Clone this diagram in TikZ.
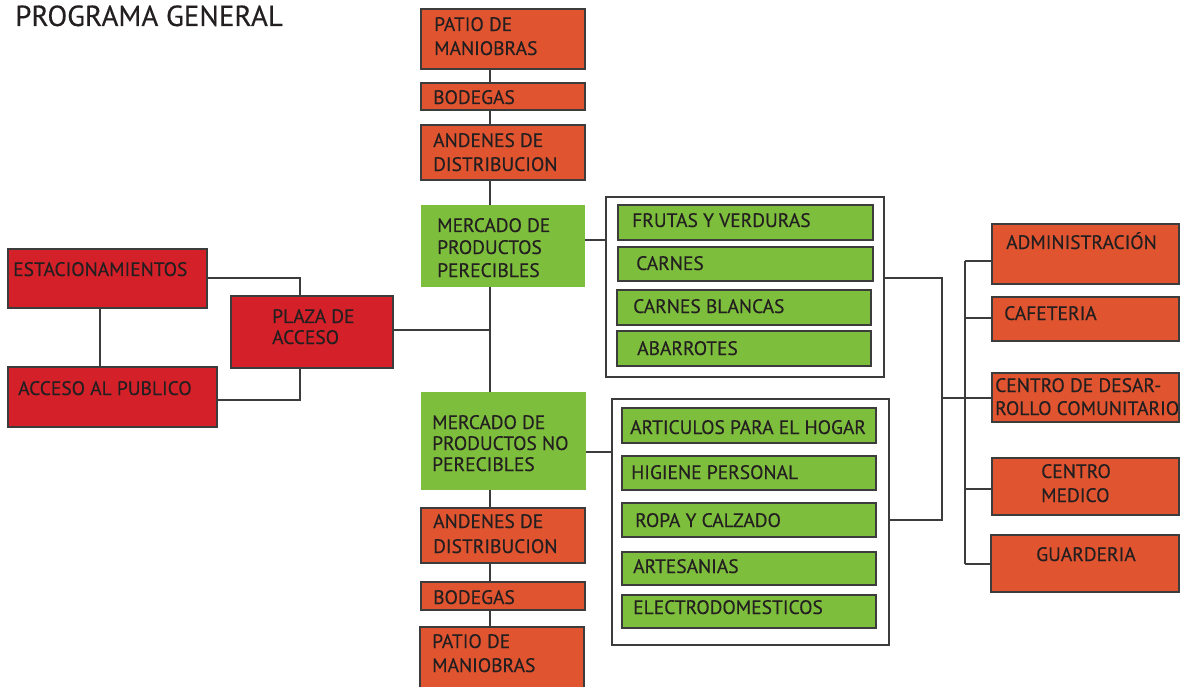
\documentclass[tikz,border=0pt]{standalone}
\usepackage{fontspec}
\setmainfont{PT Sans}[FakeBold=0.3]
\usetikzlibrary{calc}
\definecolor{org}{RGB}{224,84,48}
\definecolor{rd}{RGB}{212,32,40}
\definecolor{grn}{RGB}{125,190,60}
\definecolor{ln}{RGB}{60,60,60}
\definecolor{txc}{RGB}{35,31,32}
\newcommand\mkbox[6]{\node[#2,inner sep=0pt,outer sep=0pt,anchor=north west,minimum width={#5pt-#3pt},minimum height={#6pt-#4pt}] (#1) at (#3,#4) {};}
\newcommand\lbl[4]{\node[txt] (#1) at (#2,#3) {#4};}
\begin{document}
\begin{tikzpicture}[x=1pt,y=-1pt,
  obox/.style={draw=ln,line width=1.1pt,fill=org},
  rbox/.style={draw=ln,line width=1.1pt,fill=rd},
  gbox/.style={fill=grn},
  ibox/.style={draw=ln,line width=1.1pt,fill=grn},
  cont/.style={draw=ln,line width=1.1pt,fill=white},
  txt/.style={anchor=base west,inner sep=0pt,text=txc,font=\fontsize{19.5}{22}\selectfont},
  conn/.style={draw=ln,line width=1.2pt}]
\useasboundingbox (0,0) rectangle (1184,687);
\fill[white] (0,0) rectangle (1184,687);
% central column
\mkbox{p1}{obox}{421}{9}{585}{69}
\mkbox{b1}{obox}{421}{83}{585}{110}
\mkbox{a1}{obox}{421}{125}{585}{180}
\mkbox{mp}{gbox}{421}{205}{585}{287}
\mkbox{mnp}{gbox}{421}{392}{586}{490}
\mkbox{a2}{obox}{421}{508}{585}{563}
\mkbox{b2}{obox}{421}{582}{585}{610}
\mkbox{p2}{obox}{420}{627}{584}{692}
% left
\mkbox{est}{rbox}{8}{249}{207}{308}
\mkbox{plaza}{rbox}{231}{296}{393}{368}
\mkbox{acc}{rbox}{8}{367}{217}{427}
% containers
\mkbox{c1}{cont}{606}{197}{884}{377}
\mkbox{c2}{cont}{612}{399}{889}{645}
\mkbox{fr}{ibox}{618}{205}{873}{240}
\mkbox{ca}{ibox}{618}{247}{873}{281}
\mkbox{cb}{ibox}{617}{290}{871}{325}
\mkbox{ab}{ibox}{617}{331}{871}{366}
\mkbox{ar}{ibox}{622}{408}{876}{443}
\mkbox{hi}{ibox}{622}{456}{876}{490}
\mkbox{ro}{ibox}{622}{503}{876}{537}
\mkbox{at}{ibox}{622}{552}{876}{585}
\mkbox{el}{ibox}{622}{595}{876}{628}
% right
\mkbox{adm}{obox}{992}{224}{1179}{284}
\mkbox{caf}{obox}{992}{297}{1179}{341}
\mkbox{cdc}{obox}{992}{373}{1179}{422}
\mkbox{cm}{obox}{992}{458}{1179}{515}
\mkbox{gu}{obox}{991}{535}{1179}{592}
% helper coordinates
\coordinate (tr) at (490,0);
\coordinate (px) at (300,0);
\coordinate (ex) at (100,0);
\coordinate (rx) at (942,0);
\coordinate (bus) at (965,0);
\coordinate (y240) at (0,240);
\coordinate (y278) at (0,278);
\coordinate (y330) at (0,330);
\coordinate (y398) at (0,398);
\coordinate (y400) at (0,400);
\coordinate (y452) at (0,452);
\coordinate (y520) at (0,520);
\coordinate (y261) at (0,261);
\coordinate (y318) at (0,318);
\coordinate (y489) at (0,489);
\coordinate (y564) at (0,564);
% connectors
\draw[conn] (p1.south -| tr) -- (b1.north -| tr);
\draw[conn] (b1.south -| tr) -- (a1.north -| tr);
\draw[conn] (a1.south -| tr) -- (mp.north -| tr);
\draw[conn] (mp.south -| tr) -- (mnp.north -| tr);
\draw[conn] (mnp.south -| tr) -- (a2.north -| tr);
\draw[conn] (a2.south -| tr) -- (b2.north -| tr);
\draw[conn] (b2.south -| tr) -- (p2.north -| tr);
\draw[conn] (est.east |- y278) -| (plaza.north -| px);
\draw[conn] (est.south -| ex) -- (acc.north -| ex);
\draw[conn] (acc.east |- y400) -| (plaza.south -| px);
\draw[conn] (plaza.east |- y330) -- (tr |- y330);
\draw[conn] (mp.east |- y240) -- (c1.west |- y240);
\draw[conn] (mnp.east |- y452) -- (c2.west |- y452);
\draw[conn] (c1.east |- y278) -- (rx |- y278) -- (rx |- y520) -- (c2.east |- y520);
\draw[conn] (rx |- y398) -- (bus |- y398);
\draw[conn] (bus |- y261) -- (bus |- y564);
\draw[conn] (bus |- y261) -- (adm.west |- y261);
\draw[conn] (bus |- y318) -- (caf.west |- y318);
\draw[conn] (bus |- y398) -- (cdc.west |- y398);
\draw[conn] (bus |- y489) -- (cm.west |- y489);
\draw[conn] (bus |- y564) -- (gu.west |- y564);
% texts
\node[anchor=base west,inner sep=0pt,text=txc,font=\fontsize{29}{32}\selectfont] (title) at (15,26) {PROGRAMA GENERAL};
\lbl{tp1a}{434}{31}{PATIO DE}
\lbl{tp1b}{434}{55}{MANIOBRAS}
\lbl{tb1}{433}{104}{BODEGAS}
\lbl{ta1a}{433}{147}{ANDENES DE}
\lbl{ta1b}{433}{171}{DISTRIBUCION}
\lbl{tmpa}{437}{232}{MERCADO DE}
\lbl{tmpb}{437}{254}{PRODUCTOS}
\lbl{tmpc}{437}{277}{PERECIBLES}
\lbl{test}{13}{276}{ESTACIONAMIENTOS}
\lbl{tpla}{272}{323}{PLAZA DE}
\lbl{tplb}{272}{344}{ACCESO}
\lbl{tacc}{18}{395}{ACCESO AL PUBLICO}
\lbl{tmna}{432}{429}{MERCADO DE}
\lbl{tmnb}{432}{450}{PRODUCTOS NO}
\lbl{tmnc}{432}{471}{PERECIBLES}
\lbl{ta2a}{433}{528}{ANDENES DE}
\lbl{ta2b}{433}{553}{DISTRIBUCION}
\lbl{tb2}{433}{604}{BODEGAS}
\lbl{tp2a}{432}{648}{PATIO DE}
\lbl{tp2b}{432}{672}{MANIOBRAS}
\lbl{tfr}{632}{227}{FRUTAS Y VERDURAS}
\lbl{tca}{636}{270}{CARNES}
\lbl{tcb}{633}{313}{CARNES BLANCAS}
\lbl{tab}{637}{355}{ABARROTES}
\lbl{tar}{630}{434}{ARTICULOS PARA EL HOGAR}
\lbl{thi}{631}{479}{HIGIENE PERSONAL}
\lbl{tro}{635}{527}{ROPA Y CALZADO}
\lbl{tat}{633}{573}{ARTESANIAS}
\lbl{tel}{633}{614}{ELECTRODOMESTICOS}
\lbl{tadm}{1006}{249}{ADMINISTRACIÓN}
\lbl{tcaf}{1004}{320}{CAFETERIA}
\lbl{tcda}{995}{392}{CENTRO DE DESAR-}
\lbl{tcdb}{995}{415}{ROLLO COMUNITARIO}
\lbl{tcma}{1041}{478}{CENTRO}
\lbl{tcmb}{1041}{502}{MEDICO}
\lbl{tgu}{1036}{561}{GUARDERIA}
\end{tikzpicture}
\end{document}
